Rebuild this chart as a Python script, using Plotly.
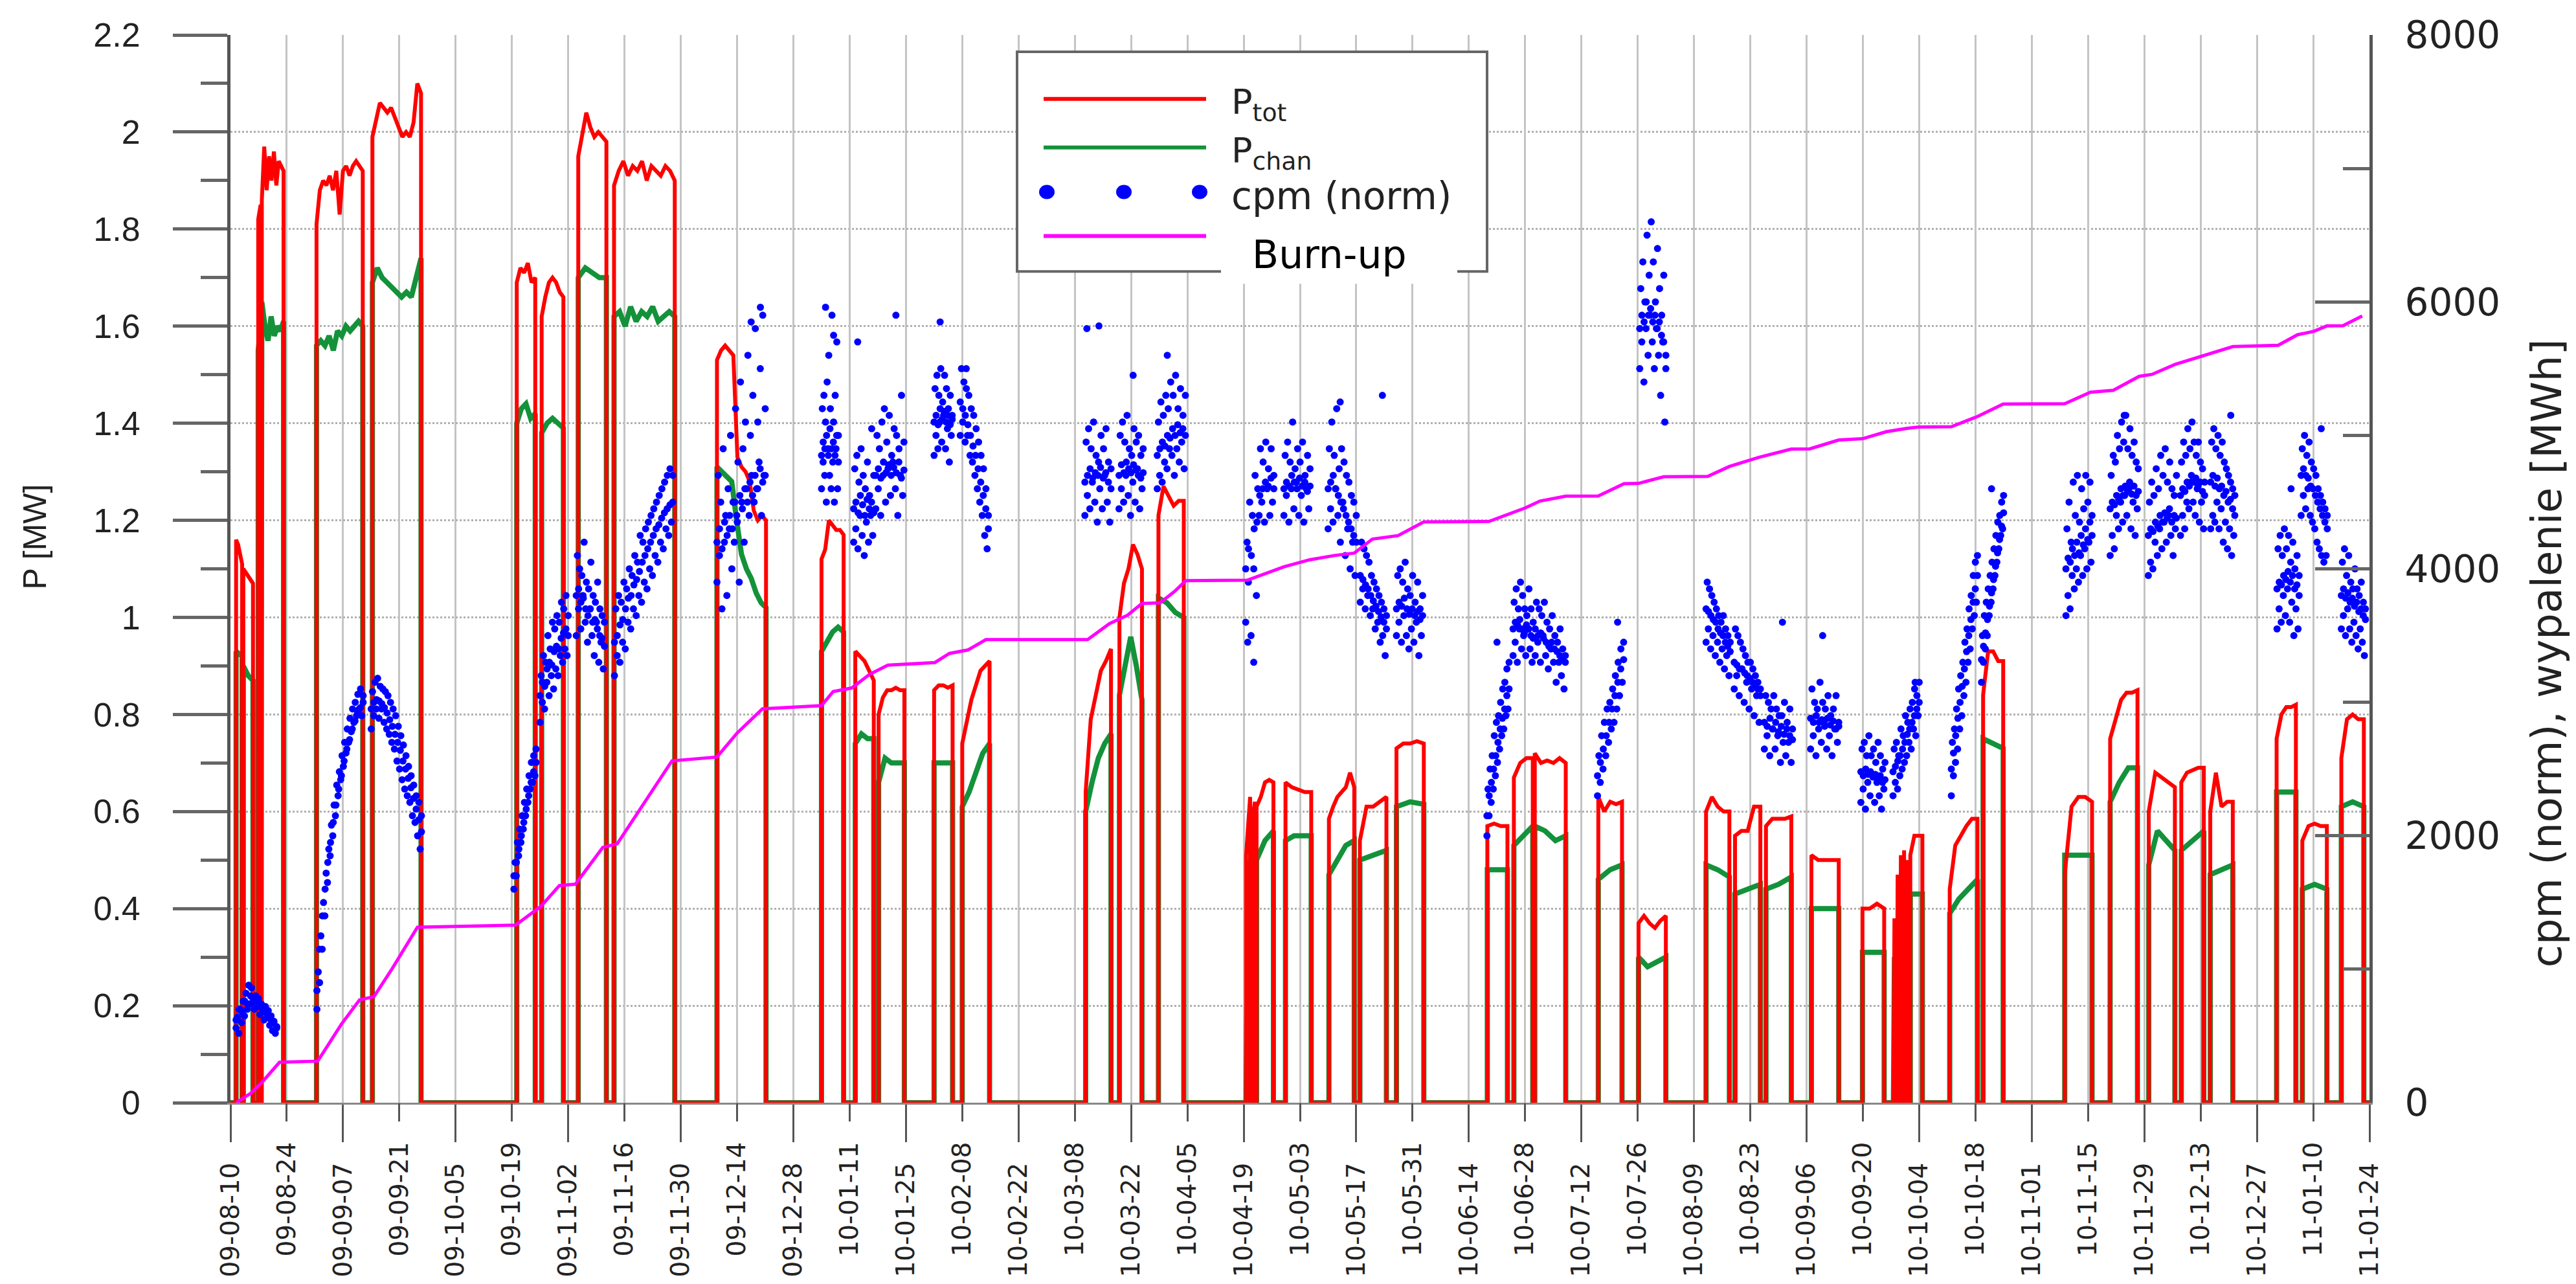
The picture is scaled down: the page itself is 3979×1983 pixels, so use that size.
import numpy as np
import pandas as pd
import plotly.graph_objects as go

# ---------------- data (days counted from 2009-08-10) ----------------
START_DATE = "2009-08-10"
END_DATE = "2011-01-24"

# reactor runs: P_tot and P_chan plateau values [MW]
run_start = [1.4, 3.2, 6.9, 7.8, 21.4, 35.3, 71.2, 77.4, 86.5, 95.4, 121.0,
             147.0, 155.4, 161.2, 175.0, 182.0, 212.7, 221.1, 230.8,
             252.6, 253.9, 255.2, 262.4, 273.2, 280.9, 290.0, 312.6, 319.2,
             324.4, 340.2, 350.2, 367.0, 374.2, 381.9, 393.2, 405.9,
             413.6, 414.4, 415.2, 416.0, 416.8, 417.8, 427.6, 435.9, 456.2,
             467.5, 477.1, 485.2, 492.4, 508.9, 515.3, 525.0]
run_end = [2.9, 5.6, 7.5, 13.2, 32.9, 47.4, 75.8, 82.8, 93.5, 110.5, 133.2,
           152.5, 160.0, 167.6, 179.6, 188.8, 219.0, 226.7, 237.1,
           253.6, 254.8, 259.4, 268.8, 279.5, 287.5, 296.8, 317.6, 323.9,
           332.1, 346.1, 357.0, 372.8, 380.5, 388.2, 400.0, 411.3,
           414.1, 414.9, 415.7, 416.5, 417.3, 420.8, 434.5, 440.9, 463.0,
           474.3, 483.6, 490.8, 498.0, 513.7, 521.4, 530.6]
ptot_vals = [
    [1.16, 1.15, 1.13, 1.11], [1.10, 1.09, 1.08, 1.07], [1.82, 1.85],
    [1.86, 1.97, 1.88, 1.95, 1.90, 1.96, 1.89, 1.94, 1.93, 1.92],
    [1.81, 1.88, 1.90, 1.89, 1.91, 1.88, 1.92, 1.83, 1.92, 1.93, 1.91, 1.93, 1.94, 1.93, 1.92],
    [1.99, 2.03, 2.06, 2.05, 2.04, 2.05, 2.03, 2.01, 1.99, 2.00, 1.99, 2.02, 2.10, 2.08],
    [1.69, 1.72, 1.71, 1.73, 1.69, 1.70], [1.62, 1.66, 1.69, 1.70, 1.69, 1.67, 1.66],
    [1.95, 2.00, 2.04, 2.01, 1.99, 2.00, 1.99, 1.98],
    [1.89, 1.92, 1.94, 1.91, 1.93, 1.92, 1.94, 1.90, 1.93, 1.92, 1.91, 1.93, 1.92, 1.90],
    [1.53, 1.55, 1.56, 1.55, 1.54, 1.33, 1.31, 1.30, 1.28, 1.22, 1.20, 1.21, 1.20],
    [1.12, 1.14, 1.20, 1.19, 1.18, 1.18, 1.17], [0.93, 0.92, 0.91, 0.89, 0.87],
    [0.80, 0.835, 0.85, 0.85, 0.855, 0.85, 0.85], [0.85, 0.86, 0.86, 0.855, 0.86],
    [0.74, 0.79, 0.83, 0.86, 0.89, 0.90, 0.91], [0.64, 0.79, 0.84, 0.89, 0.91, 0.935],
    [1.00, 1.07, 1.10, 1.15, 1.13, 1.10], [1.21, 1.27, 1.25, 1.23, 1.24, 1.24],
    [0.51, 0.63], [0.57, 0.62], [0.61, 0.63, 0.66, 0.665, 0.66],
    [0.66, 0.65, 0.645, 0.64, 0.64], [0.585, 0.61, 0.63, 0.64, 0.65, 0.68, 0.65],
    [0.54, 0.61, 0.61, 0.62, 0.63], [0.73, 0.74, 0.74, 0.745, 0.74],
    [0.57, 0.575, 0.57, 0.57], [0.67, 0.70, 0.71, 0.71],
    [0.72, 0.70, 0.705, 0.70, 0.71, 0.70], [0.63, 0.60, 0.62, 0.615, 0.62],
    [0.37, 0.385, 0.37, 0.36, 0.375, 0.385], [0.60, 0.63, 0.61, 0.60, 0.60],
    [0.55, 0.56, 0.56, 0.61, 0.61], [0.57, 0.585, 0.585, 0.585, 0.59],
    [0.51, 0.50, 0.50, 0.50, 0.50], [0.40, 0.40, 0.41, 0.40],
    [0.38], [0.47], [0.51], [0.52], [0.50], [0.51, 0.55, 0.55, 0.55],
    [0.44, 0.53, 0.55, 0.57, 0.585, 0.585], [0.84, 0.93, 0.93, 0.91, 0.91],
    [0.47, 0.61, 0.63, 0.63, 0.62], [0.75, 0.79, 0.83, 0.845, 0.845, 0.85],
    [0.60, 0.68, 0.67, 0.66, 0.65], [0.66, 0.68, 0.685, 0.69, 0.69],
    [0.60, 0.68, 0.61, 0.62, 0.62], [0.75, 0.80, 0.815, 0.815, 0.82],
    [0.54, 0.57, 0.575, 0.57, 0.57], [0.71, 0.79, 0.80, 0.79, 0.79],
]
pchan_vals = [
    [0.93, 0.92], [0.90, 0.88, 0.87], [1.55, 1.60],
    [1.65, 1.60, 1.57, 1.62, 1.58, 1.60, 1.59, 1.61],
    [1.56, 1.57, 1.56, 1.58, 1.55, 1.59, 1.58, 1.60, 1.59, 1.60, 1.61, 1.60],
    [1.69, 1.72, 1.70, 1.69, 1.68, 1.67, 1.66, 1.67, 1.66, 1.70, 1.74],
    [1.40, 1.43, 1.44, 1.41, 1.42], [1.38, 1.40, 1.41, 1.40, 1.39],
    [1.70, 1.72, 1.71, 1.70, 1.70],
    [1.62, 1.63, 1.60, 1.64, 1.61, 1.63, 1.62, 1.64, 1.61, 1.62, 1.63, 1.62],
    [1.31, 1.30, 1.29, 1.28, 1.20, 1.13, 1.10, 1.08, 1.05, 1.03, 1.02],
    [0.93, 0.95, 0.97, 0.98, 0.97], [0.74, 0.76, 0.75, 0.75],
    [0.66, 0.71, 0.70, 0.70, 0.70], [0.70, 0.70, 0.70],
    [0.61, 0.64, 0.68, 0.72, 0.74], [0.60, 0.66, 0.71, 0.74, 0.76],
    [0.84, 0.90, 0.96, 0.90, 0.83], [1.04, 1.03, 1.01, 1.00],
    [0.50], [0.52], [0.50, 0.54, 0.56],
    [0.54, 0.55, 0.55, 0.55], [0.47, 0.50, 0.53, 0.54],
    [0.50, 0.51, 0.52], [0.61, 0.62, 0.615],
    [0.48, 0.48], [0.53, 0.55, 0.57],
    [0.57, 0.56, 0.54, 0.55], [0.46, 0.48, 0.49],
    [0.30, 0.28, 0.29, 0.30], [0.49, 0.48, 0.465],
    [0.43, 0.44, 0.45], [0.44, 0.45, 0.465],
    [0.40, 0.40, 0.40], [0.31, 0.31, 0.31],
    [0.30], [0.38], [0.41], [0.42], [0.40], [0.43, 0.43],
    [0.39, 0.42, 0.44, 0.46], [0.75, 0.74, 0.73],
    [0.51, 0.51, 0.51], [0.62, 0.66, 0.69, 0.69],
    [0.49, 0.56, 0.54, 0.52], [0.52, 0.54, 0.56],
    [0.47, 0.48, 0.49], [0.64, 0.64, 0.64],
    [0.44, 0.45, 0.44], [0.61, 0.62, 0.61],
]

# burn-up [MWh]
burn_day = [1.4, 5.0, 7.7, 12.2, 21.7, 27.6, 32.1, 35.7, 40.2, 46.5, 70.9, 77.2, 81.8,
            85.8, 92.6, 96.2, 109.8, 121.0, 126.0, 132.3, 147.0, 149.9, 154.5, 159.0,
            163.5, 168.0, 175.2, 178.8, 183.4, 187.9, 213.2, 218.6, 223.1, 226.7,
            231.2, 234.9, 237.6, 252.9, 257.4, 262.0, 268.3, 274.6, 279.5, 284.0,
            290.4, 296.8, 313.0, 317.6, 322.0, 325.7, 332.1, 340.2, 346.6, 350.2,
            356.5, 367.4, 372.8, 380.1, 388.2, 392.8, 400.0, 405.9, 411.8, 417.0,
            420.0, 428.0, 434.5, 440.9, 456.2, 462.6, 468.3, 474.7, 477.9, 483.6,
            490.8, 498.0, 509.3, 514.1, 518.2, 521.4, 525.4, 530.2]
burn_val = [0, 70, 148, 303, 311, 589, 770, 795, 1004, 1315, 1330, 1471, 1627,
            1637, 1913, 1940, 2561, 2590, 2769, 2951, 2975, 3081, 3107, 3210,
            3278, 3288, 3298, 3366, 3392, 3470, 3470, 3589, 3652, 3740,
            3745, 3833, 3911, 3915, 3963, 4015, 4067, 4100, 4118, 4223,
            4249, 4352, 4355, 4404, 4456, 4508, 4544, 4546, 4638, 4640,
            4690, 4692, 4767, 4835, 4897, 4899, 4965, 4975, 5027, 5053,
            5063, 5065, 5141, 5235, 5237, 5323, 5338, 5442, 5457, 5531,
            5598, 5665, 5675, 5754, 5780, 5820, 5822, 5894]

# cpm (norm) measurement clusters: edge samples and core samples
cpm_start = [1.4, 21.5, 35.0, 70.5, 77.0, 86.0, 95.5, 121.0, 147.0, 155.0, 160.5,
             175.0, 181.5, 212.5, 221.0, 230.5, 252.5, 262.0, 273.0, 281.0, 290.0,
             312.5, 319.0, 324.5, 340.0, 350.5, 367.0, 374.0, 381.5, 393.0, 405.5,
             413.5, 428.0, 435.5, 456.5, 467.5, 477.0, 485.0, 492.5, 509.0, 515.0, 525.0]
cpm_end = [11.5, 33.0, 47.5, 76.0, 84.0, 93.0, 110.0, 133.0, 151.2, 160.0, 167.5,
           179.5, 188.5, 219.0, 227.0, 237.5, 259.5, 268.5, 280.0, 287.5, 296.5,
           318.0, 324.0, 332.0, 346.5, 357.0, 373.0, 380.5, 388.5, 400.0, 411.5,
           420.0, 434.5, 441.0, 463.0, 474.5, 484.0, 491.0, 498.5, 514.5, 521.5, 531.0]
cpm_vals = [
    [560, 640, 520, 700, 600, 760, 650, 820, 700, 880, 740, 860, 780, 700, 800, 720, 780, 660, 740, 700, 620, 720, 640, 690, 580, 650, 540, 610, 520, 570],
    [700, 980, 900, 1250, 1150, 1500, 1400, 1720, 1650, 1900, 1850, 2080, 2000, 2230, 2150, 2380, 2300, 2480, 2420, 2600, 2520, 2700, 2620, 2800, 2700, 2880, 2780, 2950, 2850, 3000, 2900, 3060, 2950, 3100, 2900, 3050],
    [2800, 3080, 2900, 3150, 2950, 3180, 2880, 3120, 2950, 3100, 2850, 3080, 2800, 3050, 2760, 3000, 2700, 2950, 2650, 2900, 2560, 2820, 2500, 2750, 2420, 2680, 2350, 2600, 2300, 2520, 2250, 2450, 2150, 2380, 2100, 2300, 2000, 2250, 1900, 2150],
    [1600, 1800, 1700, 1950, 1850, 2050, 1950, 2150, 2050, 2250, 2150, 2350, 2250, 2450, 2350, 2550, 2400, 2600, 2450, 2650],
    [2850, 3200, 3000, 3350, 2950, 3300, 3150, 3500, 3050, 3400, 3200, 3600, 3100, 3550, 3250, 3650, 3200, 3600, 3350, 3750, 3300, 3700, 3400, 3800, 3350, 3650],
    [3500, 4100, 3700, 4000, 3550, 3950, 3800, 4200, 3600, 3900, 3450, 3850, 3700, 4050, 3500, 3800, 3350, 3750, 3600, 3900, 3300, 3700, 3450, 3650, 3250, 3600],
    [3200, 3700, 3350, 3800, 3300, 3750, 3450, 3900, 3400, 3850, 3600, 4000, 3550, 3950, 3700, 4100, 3650, 4050, 3800, 4250, 3750, 4200, 3900, 4300, 3850, 4350, 4000, 4400, 3950, 4450, 4100, 4500, 4050, 4550, 4200, 4600, 4150, 4650, 4300, 4700, 4250, 4750, 4350, 4700],
    [3900, 4700, 4100, 4500, 3700, 4900, 4200, 4400, 3800, 4600, 4300, 5000, 4000, 4500, 4200, 5200, 4400, 4800, 3900, 5400, 4500, 4900, 4200, 5100, 4600, 5600, 4400, 5000, 4700, 5300, 4500, 5800, 4600, 5100, 4800, 5500, 4400, 5900, 4700, 5200],
    [4600, 5200, 4800, 5300, 4700, 5100, 4500, 5400, 4900, 5600, 4700, 5200, 4600, 5900, 4800, 5100, 4500, 5300, 4900, 5700, 4600, 5000],
    [4200, 4750, 4300, 4850, 4150, 4650, 4400, 4900, 4250, 4700, 4100, 4600, 4350, 4800, 4200, 4550, 4400, 5050, 4250, 4700],
    [4450, 5000, 4600, 4900, 4400, 5100, 4700, 5200, 4500, 4950, 4750, 5150, 4550, 4850, 4800, 5050, 4600, 5000, 4400, 4900, 4700, 5300, 4550, 4950],
    [4850, 5350, 5000, 5450, 4900, 5300, 5100, 5500, 4950, 5250, 5150, 5450, 4900, 5350, 5050, 5200, 4800, 5300, 5000, 5150],
    [5000, 5500, 5100, 5400, 4950, 5350, 5000, 5300, 4850, 5200, 4800, 5150, 4700, 5050, 4600, 4950, 4500, 4850, 4400, 4750, 4250, 4600, 4150, 4400],
    [4400, 4950, 4550, 5050, 4450, 4900, 4650, 5100, 4500, 4850, 4350, 4800, 4600, 5000, 4450, 4900, 4700, 5050, 4500, 4800, 4350, 4750],
    [4450, 5000, 4600, 5100, 4500, 4950, 4700, 5150, 4550, 4900, 4400, 4850, 4650, 5050, 4500, 4950, 4750, 5000, 4450, 4850, 4600, 4900],
    [4600, 5100, 4700, 5250, 4650, 5150, 4800, 5300, 4750, 5200, 4900, 5400, 4850, 5300, 4700, 5450, 4900, 5200, 4800, 5350, 4950, 5150, 4750, 5300],
    [3600, 4200, 3900, 4500, 3500, 4400, 4000, 4700, 3800, 4600, 4400, 4900, 4500, 4800, 4350, 4950, 4600, 4750, 4400, 4900, 4500, 4700],
    [4400, 4850, 4550, 4950, 4350, 4800, 4600, 5100, 4450, 4750, 4650, 4900, 4400, 4800, 4550, 4950, 4350, 4700, 4600, 4850, 4450, 4750],
    [4300, 4900, 4450, 5100, 4350, 4850, 4600, 5200, 4400, 4750, 4200, 4900, 4500, 4800, 4100, 4700, 4300, 4650, 4000, 4550, 4200, 4500, 3950, 4400],
    [3750, 4200, 3850, 4150, 3700, 4100, 3800, 4050, 3650, 3950, 3700, 3900, 3550, 3850, 3600, 3800, 3450, 3750, 3500, 3700, 3350, 3650],
    [3500, 3950, 3600, 4000, 3450, 3900, 3650, 4050, 3500, 3850, 3400, 3800, 3550, 3950, 3450, 3750, 3600, 3900, 3350, 3700, 3500, 3800],
    [2000, 2350, 2150, 2500, 2250, 2600, 2350, 2750, 2450, 2850, 2550, 2900, 2650, 3000, 2750, 3100, 2800, 3150, 2900, 3250, 2950, 3300],
    [3350, 3750, 3450, 3850, 3300, 3700, 3550, 3900, 3400, 3800, 3500, 3700, 3350, 3650, 3550, 3850, 3400, 3700, 3300, 3600],
    [3350, 3750, 3450, 3700, 3300, 3650, 3500, 3750, 3350, 3600, 3250, 3550, 3400, 3650, 3300, 3500, 3150, 3450, 3300, 3550, 3200, 3400, 3100, 3350],
    [2300, 2600, 2400, 2750, 2500, 2850, 2600, 2950, 2700, 3000, 2800, 3100, 2850, 3200, 2950, 3300, 3050, 3400, 3150, 3450],
    [5500, 6100, 5700, 6300, 5400, 6000, 5800, 6500, 5600, 6200, 5900, 6600, 5700, 6300, 5500, 6000, 5800, 6400, 5600, 6100, 5300, 5900, 5700, 6200, 5100, 5500],
    [3450, 3900, 3550, 3850, 3400, 3800, 3500, 3750, 3350, 3700, 3450, 3650, 3300, 3600, 3400, 3650, 3250, 3550, 3350, 3500, 3200, 3450],
    [3100, 3550, 3200, 3500, 3050, 3450, 3250, 3400, 3000, 3350, 3150, 3300, 2950, 3300, 3100, 3250, 2900, 3200, 3050, 3150, 2850, 3100],
    [2650, 3050, 2750, 3000, 2600, 2950, 2800, 3050, 2650, 2950, 2750, 2900, 2550, 2900, 2700, 3000, 2600, 2850, 2700, 2950, 2550, 2800],
    [2650, 3100, 2750, 3000, 2600, 2950, 2800, 3150, 2700, 3000, 2850, 2950, 2650, 3050, 2750, 2900, 2600, 2950, 2800, 3050, 2700, 2850],
    [2250, 2650, 2350, 2700, 2200, 2600, 2400, 2750, 2300, 2600, 2450, 2650, 2250, 2550, 2400, 2700, 2300, 2600, 2200, 2500, 2350, 2550],
    [2300, 2650, 2400, 2700, 2350, 2600, 2450, 2800, 2500, 2750, 2550, 2900, 2600, 2850, 2700, 2950, 2650, 3000, 2800, 3100, 2750, 3050, 2900, 3150],
    [2300, 2700, 2450, 2800, 2550, 2950, 2650, 3100, 2800, 3200, 2900, 3300, 3050, 3450, 3150, 3550, 3300, 3700, 3400, 3800, 3550, 3950, 3650, 4050, 3750, 4100],
    [3150, 3500, 3300, 3650, 3400, 3750, 3500, 3850, 3650, 3950, 3750, 4050, 3850, 4150, 3950, 4250, 4050, 4350, 4150, 4400, 4250, 4500, 4300, 4550],
    [3650, 4300, 3800, 4500, 3700, 4200, 3950, 4650, 3850, 4400, 4000, 4700, 3900, 4350, 4100, 4600, 3950, 4450, 4150, 4700, 4000, 4500, 4200, 4650, 4050, 4400],
    [4100, 4700, 4250, 4850, 4150, 4800, 4400, 5000, 4300, 4900, 4500, 5100, 4350, 4950, 4550, 5150, 4400, 4900, 4600, 5050, 4300, 4850, 4500, 4950, 4250, 4800, 4450, 4750],
    [3950, 4500, 4050, 4650, 4000, 4550, 4200, 4750, 4100, 4600, 4300, 4850, 4150, 4700, 4350, 4900, 4200, 4650, 4400, 4800, 4250, 4600, 4100, 4550, 4300, 4700],
    [4250, 4800, 4400, 4950, 4300, 4850, 4500, 5050, 4450, 4900, 4650, 5100, 4500, 4950, 4400, 4850, 4600, 4950, 4350, 4800, 4500, 4750, 4300, 4650],
    [4300, 4950, 4400, 5050, 4350, 4900, 4500, 5000, 4300, 4850, 4450, 4950, 4200, 4800, 4350, 4750, 4150, 4700, 4300, 4650, 4100, 4600, 4250, 4550],
    [3550, 4150, 3700, 4250, 3600, 4100, 3800, 4300, 3650, 4150, 3850, 4250, 3600, 4050, 3750, 4200, 3500, 4000, 3700, 4100, 3550, 3950],
    [4400, 4900, 4550, 5000, 4450, 4850, 4600, 4950, 4400, 4800, 4350, 4750, 4300, 4700, 4200, 4600, 4150, 4550, 4100, 4500, 4050, 4450, 4100, 4400],
    [3550, 4050, 3650, 4150, 3500, 3950, 3700, 4100, 3550, 3900, 3450, 3850, 3600, 4000, 3500, 3850, 3400, 3800, 3550, 3900, 3450, 3750, 3350, 3700],
]
cpm_core = [
    [620, 700, 680, 760, 740, 800, 760, 740, 720, 700, 680, 660, 620, 600, 560],
    [840, 1150, 1400, 1600, 1800, 1950, 2100, 2230, 2350, 2450, 2560, 2650, 2720, 2800, 2860, 2920, 2960, 3000],
    [2950, 3000, 3020, 3010, 2990, 2960, 2920, 2870, 2820, 2760, 2700, 2640, 2560, 2500, 2430, 2360, 2280, 2200, 2120, 2030],
    [1700, 1800, 1900, 2000, 2100, 2200, 2300, 2400, 2480, 2550],
    [3050, 3150, 3120, 3250, 3300, 3280, 3380, 3420, 3400, 3480, 3520, 3550, 3500],
    [3800, 3850, 3750, 3780, 3700, 3650, 3700, 3600, 3620, 3550, 3500, 3480, 3420],
    [3450, 3500, 3580, 3620, 3700, 3780, 3800, 3880, 3920, 3980, 4050, 4100, 4150, 4200, 4250, 4300, 4330, 4380, 4420, 4450, 4480, 4500],
    [4200, 4300, 4150, 4350, 4250, 4400, 4300, 4500, 4350, 4550, 4450, 4600, 4500, 4650, 4550, 4700, 4600, 4750, 4650, 4700],
    [4850, 4950, 4900, 5000, 4850, 5050, 4900, 4950, 4850, 5000, 4800],
    [4450, 4500, 4420, 4550, 4480, 4400, 4520, 4450, 4500, 4420],
    [4700, 4750, 4680, 4800, 4720, 4780, 4700, 4760, 4720, 4800, 4680, 4740],
    [5100, 5150, 5080, 5200, 5120, 5180, 5100, 5150, 5080, 5120],
    [5250, 5200, 5150, 5080, 5000, 4920, 4850, 4750, 4650, 4550, 4450, 4300],
    [4650, 4700, 4750, 4680, 4720, 4700, 4760, 4680, 4720, 4650, 4600],
    [4700, 4780, 4720, 4800, 4750, 4720, 4780, 4740, 4700, 4680, 4720],
    [4850, 4900, 4950, 4920, 5000, 4980, 5050, 5000, 5080, 5020, 5050, 5000],
    [4000, 4150, 4100, 4300, 4350, 4550, 4600, 4650, 4620, 4680, 4600],
    [4600, 4650, 4620, 4700, 4650, 4600, 4680, 4620, 4650, 4580, 4620],
    [4600, 4650, 4700, 4600, 4550, 4500, 4450, 4400, 4350, 4300, 4250, 4200],
    [3950, 3920, 3880, 3850, 3800, 3760, 3720, 3680, 3640, 3600, 3550],
    [3700, 3750, 3720, 3780, 3700, 3660, 3700, 3650, 3680, 3620, 3650],
    [2150, 2300, 2400, 2500, 2600, 2700, 2800, 2880, 2950, 3050, 3100],
    [3550, 3600, 3580, 3620, 3550, 3520, 3580, 3550, 3500, 3480],
    [3550, 3500, 3520, 3480, 3450, 3420, 3450, 3400, 3380, 3350, 3320, 3300],
    [2450, 2550, 2650, 2750, 2850, 2950, 3050, 3150, 3250, 3320],
    [5800, 5900, 5850, 6000, 5900, 5950, 5850, 5900, 5800, 5850, 5750, 5700, 5600],
    [3700, 3680, 3650, 3620, 3600, 3550, 3520, 3500, 3450, 3420, 3380],
    [3300, 3280, 3250, 3250, 3220, 3200, 3180, 3150, 3120, 3100, 3050],
    [2850, 2820, 2880, 2800, 2850, 2780, 2820, 2760, 2800, 2750, 2720],
    [2880, 2850, 2900, 2850, 2870, 2820, 2880, 2830, 2860, 2800, 2820],
    [2480, 2450, 2500, 2460, 2480, 2440, 2460, 2420, 2450, 2400, 2420],
    [2480, 2520, 2560, 2600, 2650, 2700, 2760, 2800, 2850, 2900, 2950, 3000],
    [2500, 2620, 2750, 2880, 3000, 3120, 3250, 3380, 3500, 3620, 3750, 3850, 3950],
    [3320, 3420, 3520, 3620, 3720, 3820, 3920, 4020, 4120, 4220, 4320, 4420],
    [4000, 4080, 4050, 4150, 4100, 4200, 4120, 4250, 4180, 4300, 4220, 4350, 4250],
    [4450, 4500, 4480, 4550, 4520, 4600, 4550, 4620, 4580, 4650, 4560, 4620, 4550, 4580],
    [4250, 4300, 4280, 4350, 4320, 4400, 4350, 4420, 4380, 4450, 4350, 4400, 4380],
    [4550, 4600, 4580, 4650, 4620, 4700, 4650, 4680, 4620, 4650, 4580, 4550],
    [4650, 4700, 4620, 4680, 4600, 4620, 4550, 4580, 4500, 4520, 4450, 4400],
    [3850, 3900, 3880, 3950, 3920, 3980, 3900, 3950, 3850, 3880, 3800],
    [4700, 4750, 4700, 4680, 4620, 4600, 4550, 4500, 4450, 4400, 4350, 4300],
    [3800, 3850, 3780, 3820, 3750, 3780, 3720, 3750, 3680, 3700, 3650, 3620],
]
# isolated cpm outliers
out_day = [129.5, 131.8, 148.0, 150.0, 156.0, 165.5, 176.5, 183.0, 213.0, 216.0, 224.5,
           233.0, 253.0, 254.5, 276.0, 286.5, 315.0, 345.0, 386.0, 396.0, 419.0, 438.0,
           471.0, 497.5, 512.5, 520.0]
out_val = [5850, 5960, 5960, 5750, 5700, 5900, 5850, 5500, 5800, 5820, 5450,
           5600, 3450, 3300, 5250, 5300, 3450, 3600, 3600, 3500, 3150, 4600,
           5150, 5150, 4600, 5050]

# ---------------- helpers ----------------
BASE = pd.Timestamp(START_DATE)


def to_dates(days):
    return BASE + pd.to_timedelta(np.asarray(days, dtype=float), unit="D")


def pulse_series(starts, ends, vals):
    xs, ys = [0.0], [0.0]
    for s, e, v in zip(starts, ends, vals):
        t = np.linspace(s, e, len(v)) if len(v) > 1 else np.array([(s + e) / 2])
        xs += [s] + list(t) + [e]
        ys += [0.0] + list(v) + [0.0]
    total = (pd.Timestamp(END_DATE) - BASE).days
    xs.append(total)
    ys.append(0.0)
    return to_dates(xs), ys


cx, cy = [], []
for s, e, v, c in zip(cpm_start, cpm_end, cpm_vals, cpm_core):
    cx += list(np.linspace(s, e, len(v)))
    cy += list(v)
    cx += list(np.linspace(s, e, len(c)))
    cy += list(c)
cx += out_day
cy += out_val

ptot_x, ptot_y = pulse_series(run_start, run_end, ptot_vals)
pchan_x, pchan_y = pulse_series(run_start, run_end, pchan_vals)

tick_dates = pd.date_range(START_DATE, END_DATE, freq="14D")
tick_labels = [d.strftime("%y-%m-%d") for d in tick_dates]

# ---------------- figure ----------------
W, H = 3979, 1983
L, R, T, B = 348, 3652, 43, 1695
PW, PH = R - L, B - T


def pxx(X):
    return (X - L) / PW


def pxy(Y):
    return (B - Y) / PH


fig = go.Figure()
fig.add_trace(go.Scatter(x=to_dates(cx), y=cy, mode="markers", yaxis="y2",
                         marker=dict(color="#0000ff", size=11, line=dict(width=0)),
                         name="cpm (norm)", showlegend=False))
fig.add_trace(go.Scatter(x=pchan_x, y=pchan_y, mode="lines",
                         line=dict(color="#13923a", width=8), name="P_chan", showlegend=False))
fig.add_trace(go.Scatter(x=ptot_x, y=ptot_y, mode="lines",
                         line=dict(color="#ff0000", width=6), name="P_tot", showlegend=False))
fig.add_trace(go.Scatter(x=to_dates(burn_day), y=burn_val, mode="lines", yaxis="y2",
                         line=dict(color="#ff00ff", width=5), name="Burn-up", showlegend=False))
fig.add_trace(go.Scatter(x=[], y=[], xaxis="x2", showlegend=False))

xr = [BASE, pd.Timestamp(END_DATE)]
TICKC = "#555555"
common_x = dict(type="date", range=xr, tickmode="array", tickangle=-90,
                ticks="outside", tickwidth=3, tickcolor=TICKC,
                showgrid=True, gridcolor="#c4c4c4", gridwidth=3,
                tickfont=dict(family="DejaVu Sans", size=39, color="#222222"),
                ticklabelstandoff=16, zeroline=False)
fig.update_layout(
    width=W, height=H,
    paper_bgcolor="white", plot_bgcolor="white",
    margin=dict(l=L, r=W - R, t=T, b=H - B),
    xaxis=dict(**common_x, tickvals=list(tick_dates[::2]), ticktext=tick_labels[::2],
               ticklen=58, showline=True, linecolor="#888888", linewidth=3),
    xaxis2=dict(**common_x, tickvals=list(tick_dates[1::2]), ticktext=tick_labels[1::2],
                ticklen=28, overlaying="x", anchor="y", side="bottom", showline=False),
    yaxis=dict(range=[0, 2.2], tick0=0, dtick=0.2, ticks="outside", ticklen=84,
               tickwidth=5, tickcolor="#666666", showline=True, linecolor="#555555",
               linewidth=5, showgrid=True, gridcolor="#b0b0b0", gridwidth=3, griddash="dot",
               zeroline=False,
               minor=dict(dtick=0.1, tick0=0, ticks="outside", ticklen=41, tickwidth=5,
                          tickcolor="#666666", showgrid=False),
               tickfont=dict(family="Liberation Sans, Arial", size=52, color="#222222"),
               ticklabelstandoff=40),
    yaxis2=dict(range=[0, 8000], tick0=0, dtick=2000, overlaying="y", side="right",
                ticks="inside", ticklen=84, tickwidth=5, tickcolor="#666666",
                showline=True, linecolor="#555555", linewidth=5, showgrid=False,
                zeroline=False,
                minor=dict(dtick=1000, tick0=0, ticks="inside", ticklen=41, tickwidth=5,
                           tickcolor="#666666", showgrid=False),
                tickfont=dict(family="DejaVu Sans", size=58, color="#222222"),
                ticklabelstandoff=38),
)

# ---------------- legend (drawn) ----------------
shapes = []
shapes.append(dict(type="rect", xref="paper", yref="paper", x0=pxx(1563), x1=pxx(2289),
                   y0=pxy(409), y1=pxy(69), line=dict(color="#666666", width=4),
                   fillcolor="white", layer="above"))
for yy, col in [(142, "#ff0000"), (217, "#13923a"), (354, "#ff00ff")]:
    shapes.append(dict(type="line", xref="paper", yref="paper", x0=pxx(1604), x1=pxx(1855),
                       y0=pxy(yy), y1=pxy(yy), line=dict(color=col, width=6), layer="above"))
for xx in [1609, 1728, 1845]:
    shapes.append(dict(type="circle", xref="paper", yref="paper", x0=pxx(xx - 12), x1=pxx(xx + 12),
                       y0=pxy(286 + 11), y1=pxy(286 - 11), fillcolor="#0000ff",
                       line=dict(width=0), layer="above"))
shapes.append(dict(type="rect", xref="paper", yref="paper", x0=pxx(1878), x1=pxx(2243),
                   y0=pxy(428), y1=pxy(318), line=dict(width=0), fillcolor="white", layer="above"))
fig.update_layout(shapes=shapes)

lf = dict(family="DejaVu Sans", size=54, color="#222222")
ann = [
    dict(text="P<sub>tot</sub>", x=pxx(1892), y=pxy(150), xanchor="left", yanchor="middle", font=lf),
    dict(text="P<sub>chan</sub>", x=pxx(1892), y=pxy(225), xanchor="left", yanchor="middle", font=lf),
    dict(text="cpm (norm)", x=pxx(1892), y=pxy(292), xanchor="left", yanchor="middle",
         font=dict(family="DejaVu Sans", size=58, color="#222222")),
    dict(text="Burn-up", x=pxx(1924), y=pxy(383), xanchor="left", yanchor="middle",
         font=dict(family="DejaVu Sans", size=60, color="#000000")),
    # axis titles
    dict(text="P [MW]", x=pxx(46), y=pxy(820), xanchor="center", yanchor="middle",
         textangle=-90, font=dict(family="Liberation Sans, Arial", size=50, color="#222222")),
    dict(text="cpm (norm), wypalenie [MWh]", x=pxx(3926), y=pxy(1000), xanchor="center",
         yanchor="middle", textangle=-90,
         font=dict(family="DejaVu Sans", size=64, color="#222222")),
]
for a in ann:
    a.update(xref="paper", yref="paper", showarrow=False)
fig.update_layout(annotations=ann)

fig.write_html("out.html")
